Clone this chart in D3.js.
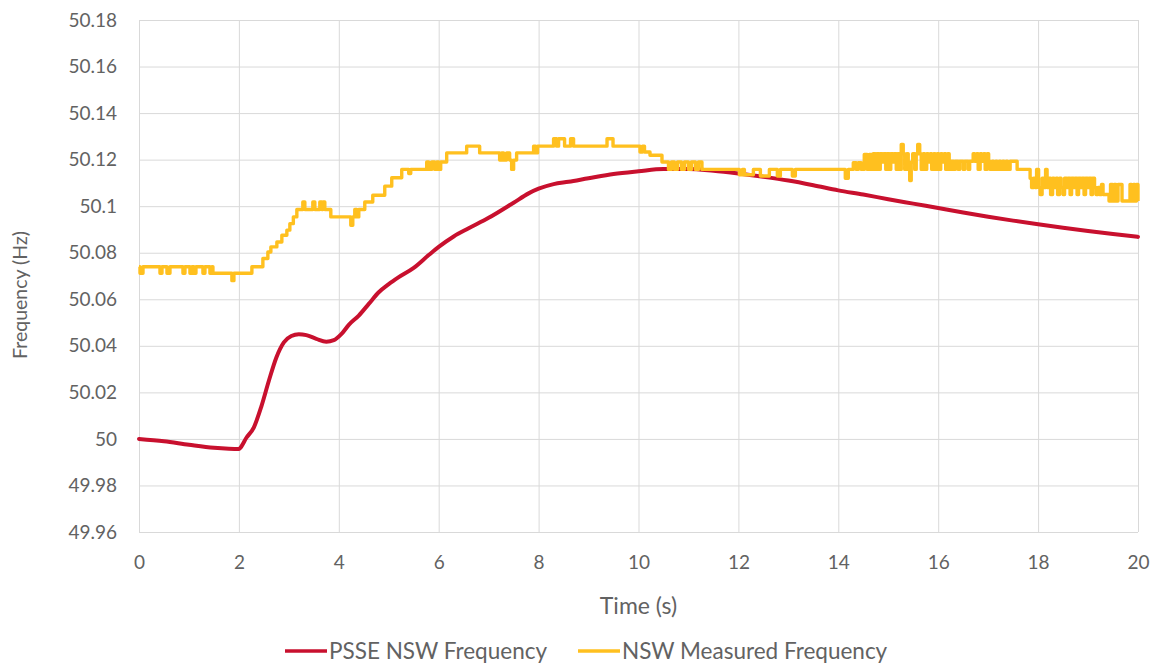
<!DOCTYPE html>
<html>
<head>
<meta charset="utf-8">
<script src="https://cdn.jsdelivr.net/npm/d3@7"></script>
<style>
  html, body { margin: 0; padding: 0; background: #ffffff; }
  svg { display: block; }
  text { font-family: Lato, "Open Sans", sans-serif; fill: #626262; }
</style>
</head>
<body>
<svg id="chart" width="1153" height="666"></svg>
<script>
// Axis ticks
const xTicks = [0, 2, 4, 6, 8, 10, 12, 14, 16, 18, 20];
const yTicks = [49.96, 49.98, 50, 50.02, 50.04, 50.06, 50.08, 50.1, 50.12, 50.14, 50.16, 50.18];
const yTickLabels = ["49.96", "49.98", "50", "50.02", "50.04", "50.06", "50.08", "50.1", "50.12", "50.14", "50.16", "50.18"];

// Simulated frequency (PSSE), time in s, frequency in Hz
const psseTime = [0, 0.5, 1.0, 1.5, 1.8, 2.0, 2.02, 2.15, 2.3, 2.45, 2.6, 2.75, 2.9, 3.05, 3.2, 3.35, 3.55, 3.75, 3.9, 4.05,
  4.2, 4.4, 4.6, 4.8, 5.0, 5.2, 5.5, 5.8, 6.0, 6.3, 6.6, 7.0, 7.5, 7.8, 8.0, 8.3, 8.6, 9.0, 9.5, 10.0,
  10.5, 11.0, 11.5, 12.0, 12.5, 13.0, 13.5, 14.0, 14.5, 15.0, 15.5, 16.0, 16.5, 17.0, 17.5, 18.0, 18.5, 19.0, 19.5, 20.0];
const psseFreq = [50.0000, 49.9990, 49.9975, 49.9962, 49.9958, 49.9957, 49.9960, 50.0005, 50.0050, 50.0140, 50.0250, 50.0350, 50.0415, 50.0442, 50.0450, 50.0446, 50.0430, 50.0418, 50.0424, 50.0450,
  50.0490, 50.0530, 50.0580, 50.0630, 50.0665, 50.0695, 50.0735, 50.0790, 50.0825, 50.0870, 50.0905, 50.0950, 50.1015, 50.1055, 50.1075, 50.1095, 50.1105, 50.1120, 50.1138, 50.1150,
  50.1160, 50.1160, 50.1152, 50.1140, 50.1126, 50.1110, 50.1090, 50.1068, 50.1050, 50.1030, 50.1011, 50.0992, 50.0973, 50.0955, 50.0938, 50.0922, 50.0907, 50.0893, 50.0880, 50.0868];

// Measured frequency: value changes of the recorded signal (each value held until the next change)
const measuredTime = [0, 0.02, 0.08, 0.42, 0.46, 0.56, 0.62, 0.88, 0.92, 1.02, 1.06, 1.10, 1.14, 1.28, 1.32, 1.42, 1.46, 1.48,
  1.86, 1.90, 2.26, 2.48, 2.58, 2.64, 2.76, 2.86, 2.96, 3.02, 3.09, 3.16,
  3.28, 3.32, 3.48, 3.52, 3.62, 3.66, 3.68, 3.72, 3.84, 4.24, 4.28, 4.32, 4.36, 4.40, 4.52, 4.68, 4.92, 5.06, 5.26, 5.40, 5.44,
  5.76, 5.80, 5.86, 5.92, 5.96, 6.00, 6.04, 6.16, 6.56, 6.82, 7.22, 7.26, 7.30, 7.36, 7.42, 7.46, 7.50, 7.56, 7.90, 7.94, 7.98,
  8.30, 8.36, 8.40, 8.52, 8.64, 8.70, 9.37, 9.49, 10.03, 10.08, 10.12, 10.23, 10.47, 10.60, 10.66, 10.72, 10.78, 10.86, 10.92,
  11.00, 11.06, 11.14, 11.20, 11.27, 12.02, 12.08, 12.12, 12.30, 12.44, 12.62, 12.78, 12.84, 13.08, 13.14, 14.14, 14.20,
  14.30, 14.36, 14.40, 14.46, 14.52, 14.58, 14.62, 14.67,
  14.70, 14.74, 14.77, 14.81, 14.84, 14.88, 14.91, 14.95, 14.98, 15.02, 15.05, 15.09, 15.12, 15.16, 15.19, 15.23,
  15.26, 15.30, 15.33, 15.37, 15.40, 15.43, 15.46, 15.49, 15.53, 15.56, 15.59, 15.63, 15.66, 15.70, 15.73, 15.77,
  15.80, 15.84, 15.87, 15.91, 15.94, 15.98, 16.01, 16.05, 16.08, 16.12, 16.15, 16.19, 16.22,
  16.26, 16.31, 16.34, 16.40, 16.43, 16.50, 16.53, 16.60, 16.63, 16.70, 16.73, 16.77, 16.80, 16.84, 16.87, 16.91, 16.94, 16.98, 17.01,
  17.04, 17.08, 17.11, 17.15, 17.18, 17.22, 17.25, 17.29, 17.32, 17.36, 17.39, 17.44, 17.58,
  17.84, 17.87, 17.91, 17.94, 17.97, 18.01, 18.04, 18.08, 18.11, 18.15, 18.18, 18.22, 18.25, 18.29, 18.32, 18.36, 18.39, 18.43,
  18.46, 18.50, 18.53, 18.57, 18.60, 18.64, 18.67, 18.71, 18.74, 18.78, 18.81, 18.85, 18.88, 18.92, 18.95, 18.99, 19.02, 19.06,
  19.09, 19.13, 19.16, 19.20, 19.23, 19.27, 19.30, 19.42, 19.45, 19.49, 19.52, 19.56, 19.60, 19.68,
  19.84, 19.87, 19.91, 19.94, 19.97, 20.00];
const measuredFreq = [50.0740, 50.0712, 50.0740, 50.0712, 50.0740, 50.0712, 50.0740, 50.0712, 50.0740, 50.0712, 50.0740, 50.0712, 50.0740, 50.0712, 50.0740, 50.0712, 50.0740, 50.0712,
  50.0680, 50.0712, 50.0740, 50.0775, 50.0803, 50.0825, 50.0846, 50.0875, 50.0897, 50.0925, 50.0954, 50.0986,
  50.1018, 50.0986, 50.1018, 50.0986, 50.1018, 50.0986, 50.1018, 50.0986, 50.0954, 50.0918, 50.0954, 50.0986, 50.0954, 50.0986, 50.1018, 50.1047, 50.1086, 50.1122, 50.1158, 50.1140, 50.1158,
  50.1190, 50.1158, 50.1190, 50.1158, 50.1190, 50.1158, 50.1190, 50.1229, 50.1258, 50.1229, 50.1198, 50.1229, 50.1198, 50.1229, 50.1198, 50.1158, 50.1198, 50.1229, 50.1258, 50.1229, 50.1258,
  50.1290, 50.1258, 50.1290, 50.1258, 50.1290, 50.1258, 50.1290, 50.1258, 50.1233, 50.1258, 50.1233, 50.1219, 50.1190, 50.1158, 50.1190, 50.1158, 50.1190, 50.1158, 50.1190,
  50.1158, 50.1190, 50.1158, 50.1190, 50.1158, 50.1135, 50.1158, 50.1135, 50.1158, 50.1130, 50.1158, 50.1130, 50.1158, 50.1130, 50.1158, 50.1120, 50.1158,
  50.1187, 50.1158, 50.1187, 50.1158, 50.1222, 50.1158, 50.1222, 50.1158,
  50.1225, 50.1158, 50.1225, 50.1158, 50.1225, 50.1190, 50.1225, 50.1158, 50.1225, 50.1158, 50.1225, 50.1190, 50.1225, 50.1158, 50.1225, 50.1158,
  50.1265, 50.1225, 50.1158, 50.1225, 50.1158, 50.1110, 50.1190, 50.1225, 50.1158, 50.1225, 50.1265, 50.1225, 50.1158, 50.1225, 50.1158, 50.1225,
  50.1190, 50.1225, 50.1158, 50.1225, 50.1158, 50.1225, 50.1158, 50.1225, 50.1190, 50.1225, 50.1158, 50.1225, 50.1158,
  50.1193, 50.1158, 50.1193, 50.1158, 50.1193, 50.1158, 50.1193, 50.1158, 50.1193, 50.1225, 50.1193, 50.1225, 50.1158, 50.1225, 50.1193, 50.1225, 50.1158, 50.1225, 50.1193,
  50.1158, 50.1193, 50.1158, 50.1193, 50.1158, 50.1193, 50.1158, 50.1193, 50.1158, 50.1193, 50.1158, 50.1193, 50.1158, 50.1120,
  50.1080, 50.1120, 50.1080, 50.1158, 50.1080, 50.1050, 50.1120, 50.1080, 50.1158, 50.1080, 50.1120, 50.1050, 50.1120, 50.1080, 50.1120, 50.1050, 50.1120, 50.1080,
  50.1050, 50.1120, 50.1080, 50.1120, 50.1050, 50.1120, 50.1080, 50.1120, 50.1050, 50.1120, 50.1080, 50.1120, 50.1050, 50.1120, 50.1080, 50.1120, 50.1050, 50.1120,
  50.1080, 50.1050, 50.1080, 50.1050, 50.1093, 50.1050, 50.1022, 50.1093, 50.1022, 50.1093, 50.1022, 50.1093, 50.1022, 50.1093,
  50.1022, 50.1093, 50.1022, 50.1093, 50.1022, 50.1093];

const seriesNames = ["PSSE NSW Frequency", "NSW Measured Frequency"];
const seriesColors = ["#C8102E", "#FFC01F"];

const svg = d3.select("#chart");
const W = 1153, H = 666;
const margin = { top: 20, right: 15, bottom: 134, left: 139 };
const iw = W - margin.left - margin.right;
const ih = H - margin.top - margin.bottom;

const x = d3.scaleLinear().domain([0, 20]).range([0, iw]);
const y = d3.scaleLinear().domain([49.96, 50.18]).range([ih, 0]);

const g = svg.append("g").attr("transform", `translate(${margin.left},${margin.top})`);

// Horizontal gridlines with tick labels
const yAxis = g.append("g")
  .call(d3.axisLeft(y).tickValues(yTicks).tickSize(-iw).tickPadding(22)
    .tickFormat((d, i) => yTickLabels[i]));
yAxis.select(".domain").remove();
yAxis.selectAll(".tick line").attr("stroke", "#D9D9D9").attr("stroke-width", 1);
yAxis.selectAll(".tick text").attr("font-size", 19).attr("fill", "#626262")
  .style("font-family", "Lato, sans-serif");

// Vertical gridlines with tick labels
const xAxis = g.append("g").attr("transform", `translate(0,${ih})`)
  .call(d3.axisBottom(x).tickValues(xTicks).tickSize(-ih).tickPadding(24).tickFormat(d3.format("d")));
xAxis.select(".domain").remove();
xAxis.selectAll(".tick line").attr("stroke", "#D9D9D9").attr("stroke-width", 1);
xAxis.selectAll(".tick text").attr("font-size", 19).attr("fill", "#626262")
  .style("font-family", "Lato, sans-serif");

// Series
const psse = psseTime.map((t, i) => [t, psseFreq[i]]);
const measured = measuredTime.map((t, i) => [t, measuredFreq[i]]);

const smooth = d3.line().x(d => x(d[0])).y(d => y(d[1])).curve(d3.curveMonotoneX);
const stepped = d3.line().x(d => x(d[0])).y(d => y(d[1])).curve(d3.curveStepAfter);

g.append("path").datum(psse)
  .attr("d", smooth).attr("fill", "none")
  .attr("stroke", seriesColors[0]).attr("stroke-width", 4)
  .attr("stroke-linejoin", "round").attr("stroke-linecap", "round");

g.append("path").datum(measured)
  .attr("d", stepped).attr("fill", "none")
  .attr("stroke", seriesColors[1]).attr("stroke-width", 3.4)
  .attr("stroke-linejoin", "round");

// Axis titles
svg.append("text")
  .attr("x", margin.left + iw / 2).attr("y", 614)
  .attr("text-anchor", "middle").attr("font-size", 23)
  .text("Time (s)");

svg.append("text")
  .attr("transform", `translate(27,295) rotate(-90)`)
  .attr("text-anchor", "middle").attr("font-size", 19.5)
  .text("Frequency (Hz)");

// Legend
const legendX = [285, 578];
const legend = svg.append("g");
seriesNames.forEach((name, i) => {
  legend.append("line")
    .attr("x1", legendX[i]).attr("x2", legendX[i] + 42)
    .attr("y1", 651).attr("y2", 651)
    .attr("stroke", seriesColors[i]).attr("stroke-width", 3.5);
  legend.append("text")
    .attr("x", legendX[i] + 44).attr("y", 659)
    .attr("font-size", 22.5)
    .text(name);
});
</script>
</body>
</html>
